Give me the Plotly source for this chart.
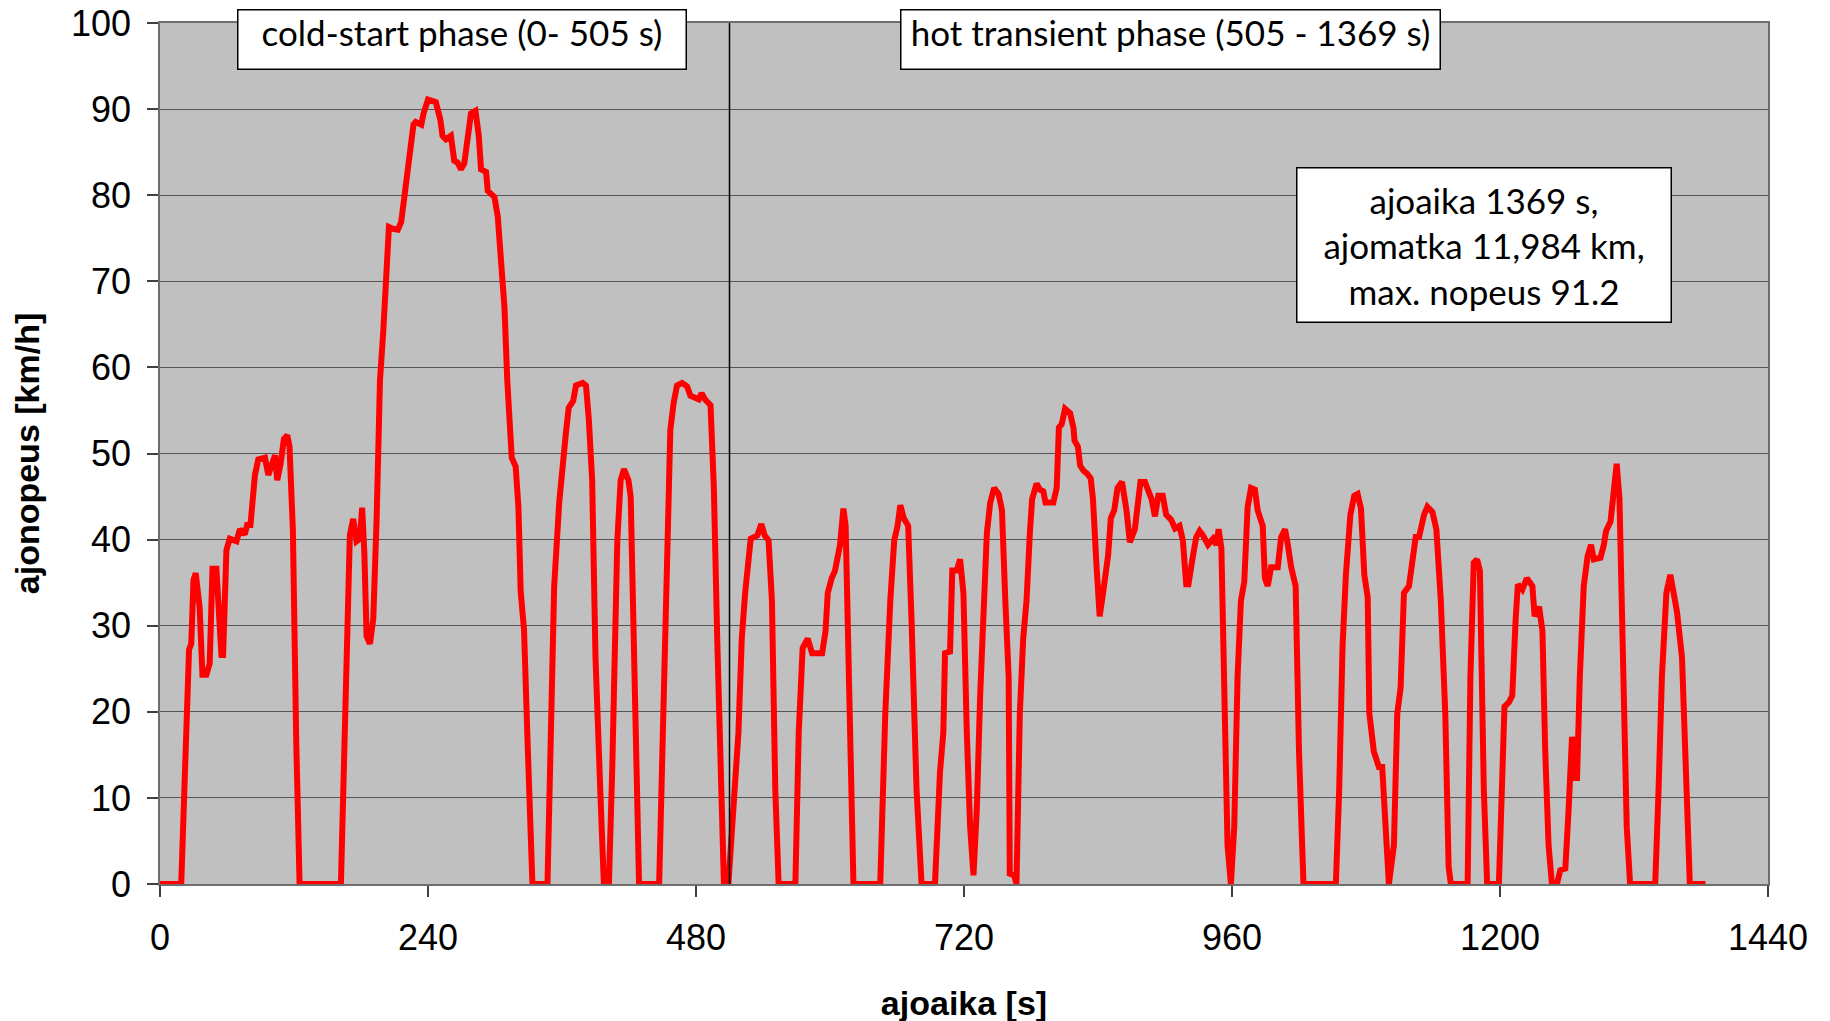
import plotly.graph_objects as go

# --- data ---
time_s = [0, 19, 26, 28, 30, 32, 35.5, 38, 41.5, 44.5, 47, 50.5, 55, 56.5, 59.5, 62.5, 68.5, 71.5, 76, 78,
          81, 85, 88, 94, 97, 100, 103, 105, 108, 111, 114, 116, 119, 122, 125, 162, 165, 170, 173, 176,
          179, 181, 183, 185, 188, 191, 194, 197, 200, 203, 205, 208.5, 213, 216, 217.5, 222, 225, 227, 229, 234,
          236, 240, 247, 251, 253, 256, 260.5, 263.5, 266.5, 269.5, 272.5, 275.5, 278.5, 282.5, 285.5, 287.5, 292, 293.5, 299.5, 302.5,
          305.5, 308.5, 311, 315, 318.5, 321, 323, 326, 329, 333.5, 347, 350, 353, 357.5, 360.5, 363.5, 366, 370, 372.5, 378.5,
          381.5, 384, 387, 390, 394.5, 397.5, 402, 405, 409.5, 412.5, 415.5, 419.5, 421.5, 424.5, 429, 447, 451, 454, 457, 460,
          463, 467.5, 472, 475, 479.5, 482.5, 485, 488, 493, 496, 499, 502, 505, 509, 514, 518, 521, 524, 529, 535,
          538.5, 541.5, 545, 548, 551, 554, 569, 572, 575.5, 580, 584, 593, 596, 598, 601.5, 604.5, 609, 612, 614, 616.5,
          621, 645, 649.5, 654, 657.5, 660.5, 663, 666, 670, 673, 677.5, 682, 694, 698.5, 701.5, 703, 707.5, 709.5, 713.5, 716.5,
          719.5, 722.5, 725.5, 728.5, 731.5, 734.5, 737.5, 740.5, 743.5, 747, 751, 754, 757, 760, 761, 765, 767, 770, 773, 776,
          779, 781, 785, 788, 791, 793, 800, 803, 805, 807.5, 810.5, 815, 818, 819, 822, 824, 827, 830, 833.5, 835.5,
          838.5, 841.5, 844.5, 849, 851.5, 854.5, 857.5, 861.5, 865.5, 868.5, 873, 876, 878, 882, 885, 888, 891, 894, 898, 901,
          905.5, 909, 913, 916, 919, 921, 925, 928, 931, 934, 938.5, 943, 946, 948, 950.5, 953, 956, 959, 962, 965,
          968, 971, 974, 977, 980.5, 983, 987.5, 989.5, 992, 995, 1001, 1004, 1007.5, 1010, 1013, 1017, 1020, 1024, 1053, 1056,
          1059, 1062, 1066, 1069.5, 1072.5, 1075.5, 1078.5, 1081.5, 1083, 1087, 1091.5, 1094.5, 1097.5, 1100.5, 1105, 1108, 1111, 1114, 1118.5, 1121.5,
          1124.5, 1127.5, 1132, 1135, 1139.5, 1143, 1147, 1151, 1153, 1154, 1156, 1171, 1173.5, 1176.5, 1179.5, 1182, 1185.5, 1188.5, 1199, 1202,
          1204, 1208, 1211, 1214, 1216, 1220, 1224, 1229, 1231, 1235, 1238, 1240.5, 1243.5, 1246.5, 1251, 1254, 1258.5, 1261.5, 1264.5, 1266.5,
          1269, 1271.5, 1275, 1278.5, 1281.5, 1284, 1290, 1293, 1295, 1299, 1301, 1304.5, 1307, 1310, 1313.5, 1316.5, 1339, 1342, 1345, 1349,
          1352.5, 1355.5, 1358.5, 1363, 1367, 1370, 1384]

speed_kmh = [0, 0, 27.2, 27.9, 35.3, 36.1, 32.1, 24.3, 24.3, 25.6, 36.6, 36.6, 26.6, 26.6, 38.8, 40.1, 39.8, 41.2, 40.6, 41.7,
             41.7, 47.5, 49.3, 49.5, 47.5, 48.8, 49.8, 46.9, 48.8, 51.7, 52.1, 50.8, 41.1, 16.6, 0, 0, 16.6, 40.5, 42.4, 39.8,
             40.1, 43.7, 38.5, 28.8, 27.9, 30.8, 42.4, 58.5, 64.3, 72.7, 76.3, 76.1, 76.0, 76.9, 78.5, 82.4, 85.6, 88.2, 88.5, 88.2,
             89.5, 91.1, 90.8, 88.8, 86.9, 86.5, 86.9, 84.0, 83.8, 83.0, 83.7, 86.5, 89.5, 89.8, 86.9, 83.0, 82.7, 80.5, 79.8, 77.5,
             71.4, 66.9, 58.5, 49.5, 48.5, 43.7, 34.0, 29.5, 17.2, 0, 0, 16.6, 34.6, 44.3, 49.5, 52.4, 55.3, 56.1, 57.9, 58.2,
             57.9, 54.0, 46.9, 26.3, 10.1, 0, 0, 13.4, 39.8, 46.9, 48.2, 46.9, 45.0, 27.5, 0, 0, 23.0, 42.4, 52.7, 55.9,
             57.9, 58.2, 57.8, 56.7, 56.5, 56.3, 57.0, 56.3, 55.6, 46.0, 28.5, 11.0, 0, 0, 11.0, 17.6, 28.5, 33.8, 40.1, 40.5,
             41.8, 40.5, 39.9, 32.9, 11.0, 0, 0, 17.6, 27.4, 28.5, 26.8, 26.8, 29.4, 33.8, 35.5, 36.4, 39.4, 43.6, 41.6, 24.1,
             0, 0, 19.8, 32.9, 39.9, 41.6, 44.0, 42.5, 41.6, 30.7, 11.0, 0, 0, 13.0, 17.6, 26.8, 27.0, 36.4, 36.4, 37.7,
             33.8, 17.6, 6.6, 1.0, 8.8, 22.0, 30.7, 40.8, 44.3, 46.0, 45.3, 43.4, 32.9, 24.1, 1.2, 1.0, 0, 19.8, 28.5, 32.9,
             40.8, 44.7, 46.5, 45.8, 45.6, 44.3, 44.3, 46.0, 53.0, 53.4, 55.2, 54.7, 53.0, 51.5, 50.8, 48.6, 48.0, 47.7, 47.1, 44.7,
             37.3, 31.1, 33.8, 38.1, 42.5, 43.4, 46.0, 46.7, 43.4, 39.7, 41.2, 44.3, 46.7, 46.7, 45.6, 44.7, 42.7, 45.1, 45.1, 42.9,
             42.3, 41.3, 41.6, 39.9, 34.8, 34.8, 38.1, 40.3, 41.0, 40.5, 39.4, 40.1, 39.4, 41.2, 39.0, 19.8, 4.5, 0, 6.6, 24.1,
             32.9, 35.1, 43.8, 46.0, 45.8, 43.4, 41.6, 35.5, 34.6, 36.8, 36.8, 40.3, 41.2, 39.4, 36.8, 34.6, 15.4, 0, 0, 11.0,
             27.6, 35.9, 42.9, 45.1, 45.3, 43.6, 35.9, 33.3, 19.8, 15.4, 13.6, 13.6, 8.0, 0, 4.5, 19.8, 22.8, 33.8, 34.6, 37.3,
             40.3, 40.3, 42.9, 43.8, 43.2, 41.2, 32.9, 19.8, 6.6, 2.0, 0, 0, 24.1, 37.3, 37.7, 36.4, 11.0, 0, 0, 11.0,
             20.6, 21.1, 21.9, 30.7, 34.8, 34.2, 35.5, 34.6, 31.1, 32.2, 29.4, 15.4, 4.5, 0, 0, 1.6, 1.8, 8.8, 17.1, 12.3,
             12.3, 24.1, 34.6, 38.1, 39.4, 37.7, 37.9, 39.4, 41.0, 42.1, 44.7, 48.8, 44.7, 24.1, 6.6, 0, 0, 11.0, 24.1, 33.8,
             35.9, 33.8, 31.6, 26.3, 11.0, 0, 0]

phase_boundary_s = 510
x_ticks = [0, 240, 480, 720, 960, 1200, 1440]
y_ticks = [0, 10, 20, 30, 40, 50, 60, 70, 80, 90, 100]

label_cold = "cold-start phase (0- 505 s)"
label_hot = "hot transient phase (505 - 1369 s)"
label_info = "ajoaika 1369 s,<br>ajomatka 11,984 km,<br>max. nopeus 91.2"

fig = go.Figure()
fig.add_trace(go.Scatter(x=time_s, y=speed_kmh, mode="lines",
                         line=dict(color="#FF0000", width=6), showlegend=False,
                         hoverinfo="skip"))

fig.add_shape(type="line", xref="x", yref="y", x0=phase_boundary_s, x1=phase_boundary_s,
              y0=0, y1=100, line=dict(color="black", width=1.5))

box_font = dict(family="Lato, 'Open Sans', sans-serif", size=35, color="black")
fig.add_annotation(x=270, y=98.1, xref="x", yref="y", text=label_cold, showarrow=False,
                   font=box_font, bgcolor="white", bordercolor="black", borderwidth=1.5,
                   borderpad=0, width=447, height=58, align="center", valign="top")
fig.add_annotation(x=905, y=98.1, xref="x", yref="y", text=label_hot, showarrow=False,
                   font=box_font, bgcolor="white", bordercolor="black", borderwidth=1.5,
                   borderpad=0, width=538, height=58, align="center", valign="top")
fig.add_annotation(x=1185.4, y=74.2, xref="x", yref="y", text=label_info, showarrow=False,
                   font=dict(family="Lato, 'Open Sans', sans-serif", size=35, color="black"),
                   bgcolor="white", bordercolor="black", borderwidth=1.5,
                   borderpad=0, width=373, height=153, align="center", valign="middle")

axis_font = dict(family="Liberation Sans, Arial, sans-serif", size=36, color="black")
title_font = dict(family="Liberation Sans, Arial, sans-serif", size=34, color="black")

fig.update_xaxes(range=[0, 1440], tickvals=x_ticks, ticktext=[str(v) for v in x_ticks],
                 showgrid=False, zeroline=False, showline=True, linecolor="#6e6e6e", linewidth=1.5,
                 mirror=True, ticks="outside", ticklen=11, tickcolor="#404040", tickwidth=1.5,
                 tickfont=axis_font, ticklabelstandoff=10, ticklabeloverflow="allow",
                 title=dict(text="<b>ajoaika [s]</b>", font=title_font, standoff=34))
fig.update_yaxes(range=[0, 100], tickvals=y_ticks, ticktext=[str(v) for v in y_ticks],
                 showgrid=True, gridcolor="#555555", gridwidth=1.3, zeroline=False,
                 showline=True, linecolor="#6e6e6e", linewidth=1.5, mirror=True,
                 ticks="outside", ticklen=11, tickcolor="#404040", tickwidth=1.5,
                 tickfont=axis_font, ticklabelstandoff=9, ticklabeloverflow="allow",
                 title=dict(text="<b>ajonopeus [km/h]</b>", font=title_font, standoff=36))

fig.update_layout(width=1830, height=1021, paper_bgcolor="white", plot_bgcolor="#C0C0C0",
                  margin=dict(l=152, r=70, t=15, b=145, autoexpand=False))

fig.write_html("out.html")
